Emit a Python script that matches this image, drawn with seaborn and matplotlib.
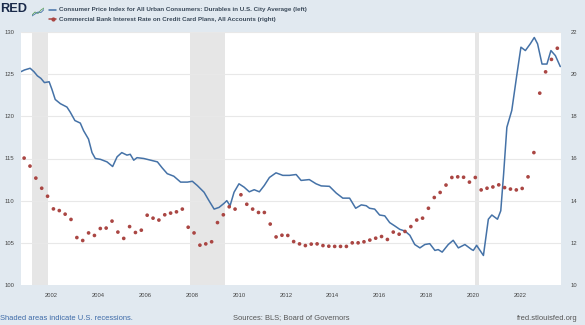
import matplotlib
matplotlib.use("Agg")
import matplotlib.pyplot as plt
import seaborn as sns
import pandas as pd
import numpy as np

# ---- data ----
cpi_year = [2000.70, 2000.85, 2001.09, 2001.25, 2001.40, 2001.55, 2001.70, 2001.90, 2002.02, 2002.16,
            2002.38, 2002.66, 2002.80, 2003.00, 2003.23, 2003.37, 2003.58, 2003.73, 2003.87, 2004.09,
            2004.37, 2004.61, 2004.80, 2005.00, 2005.22, 2005.36, 2005.51, 2005.65, 2005.94, 2006.23,
            2006.52, 2006.72, 2006.94, 2007.22, 2007.51, 2007.80, 2008.01, 2008.22, 2008.51, 2008.72,
            2008.94, 2009.15, 2009.37, 2009.48, 2009.62, 2009.79, 2010.00, 2010.22, 2010.44, 2010.65,
            2010.87, 2011.08, 2011.30, 2011.58, 2011.87, 2012.15, 2012.44, 2012.65, 2013.00, 2013.29,
            2013.51, 2013.86, 2014.15, 2014.43, 2014.72, 2014.98, 2015.22, 2015.43, 2015.57, 2015.79,
            2016.00, 2016.22, 2016.43, 2016.65, 2016.86, 2017.08, 2017.29, 2017.50, 2017.72, 2017.93,
            2018.14, 2018.36, 2018.50, 2018.67, 2018.93, 2019.14, 2019.36, 2019.64, 2019.93, 2020.00,
            2020.14, 2020.43, 2020.64, 2020.79, 2021.03, 2021.17, 2021.29, 2021.43, 2021.64, 2021.86,
            2022.03, 2022.22, 2022.43, 2022.60, 2022.74, 2022.93, 2023.14, 2023.31, 2023.50, 2023.71]
cpi_value = [125.3, 125.5, 125.7, 125.3, 124.8, 124.5, 124.0, 124.1, 123.2, 122.0,
             121.5, 121.1, 120.5, 119.5, 119.2, 118.3, 117.3, 115.7, 115.0, 114.9,
             114.6, 114.05, 115.2, 115.7, 115.4, 115.5, 114.8, 115.1, 115.0, 114.8,
             114.6, 113.9, 113.2, 112.9, 112.2, 112.2, 112.3, 111.8, 111.0, 110.0,
             109.0, 109.2, 109.7, 110.0, 109.4, 111.0, 112.0, 111.6, 111.05, 111.3,
             111.05, 111.8, 112.75, 113.3, 113.0, 113.0, 113.1, 112.4, 112.5, 112.0,
             111.75, 111.7, 110.9, 110.3, 110.3, 109.1, 109.5, 109.4, 109.1, 109.0,
             108.3, 108.2, 107.4, 107.0, 106.6, 106.4, 105.9, 104.8, 104.4, 104.8,
             104.9, 104.1, 104.2, 103.9, 104.8, 105.3, 104.4, 104.8, 104.2, 104.1,
             104.7, 103.5, 107.8, 108.3, 107.8, 108.8, 113.1, 118.7, 120.7, 125.0,
             128.2, 127.8, 128.6, 129.35, 128.6, 126.2, 126.2, 127.8, 127.2, 125.9]

rate_start = "2000-11-01"
rate_value = [16.02, 15.64, 15.07, 14.59, 14.21, 13.61, 13.53, 13.36, 13.11, 12.25,
              12.11, 12.47, 12.35, 12.68, 12.70, 13.03, 12.51, 12.21, 12.77, 12.49,
              12.60, 13.31, 13.17, 13.08, 13.33, 13.41, 13.47, 13.60, 12.74, 12.47,
              11.89, 11.95, 12.05, 12.96, 13.33, 13.71, 13.60, 14.28, 13.83, 13.60,
              13.44, 13.44, 12.89, 12.28, 12.36, 12.35, 12.06, 11.95, 11.87, 11.94,
              11.95, 11.87, 11.84, 11.83, 11.83, 11.83, 12.00, 12.00, 12.05, 12.13,
              12.22, 12.30, 12.16, 12.51, 12.41, 12.54, 12.77, 13.08, 13.17, 13.64,
              14.15, 14.39, 14.74, 15.10, 15.13, 15.11, 14.88, 15.10, 14.51, 14.59,
              14.65, 14.75, 14.62, 14.55, 14.51, 14.58, 15.13, 16.28, 19.10, 20.11,
              20.70, 21.23]

recessions = [(2001.167, 2001.833), (2007.917, 2009.417), (2020.083, 2020.25)]
left_ticks = [100, 105, 110, 115, 120, 125, 130]
right_ticks = [10, 12, 14, 16, 18, 20, 22]
x_ticks = [2002, 2004, 2006, 2008, 2010, 2012, 2014, 2016, 2018, 2020, 2022]

legend_cpi = "Consumer Price Index for All Urban Consumers: Durables in U.S. City Average (left)"
legend_rate = "Commercial Bank Interest Rate on Credit Card Plans, All Accounts (right)"

# ---- frames ----
cpi_df = pd.DataFrame({"year": cpi_year, "value": cpi_value})
rdates = pd.date_range(rate_start, periods=len(rate_value), freq="3MS")
rate_df = pd.DataFrame({"year": rdates.year + (rdates.month - 1) / 12.0, "value": rate_value})

BG = "#e1e9f0"
BLUE = "#4572a7"
RED = "#aa4643"
TXT = "#444444"

sns.set_theme(style="white")
plt.rcParams["font.family"] = ["Liberation Sans", "DejaVu Sans"]

fig = plt.figure(figsize=(5.85, 3.25), dpi=100, facecolor=BG)
ax = fig.add_axes([21 / 585, 1 - 285 / 325, 540 / 585, 253 / 325])
ax.set_facecolor("white")

for a, b in recessions:
    ax.axvspan(a, b, color="#e6e6e6", lw=0, zorder=0)

for t in left_ticks[1:]:
    ax.axhline(t, color="#e8e8e8", lw=0.8, zorder=0.5)

sns.lineplot(data=cpi_df, x="year", y="value", ax=ax, color=BLUE, lw=1.1, zorder=3)
ax.set_xlim(2000.70, 2023.74)
ax.set_ylim(100, 130)
ax.set_yticks(left_ticks)
ax.set_xticks(x_ticks)
ax.set_xticklabels([str(t) for t in x_ticks])
ax.set_xlabel("")
ax.set_ylabel("")
ax.tick_params(axis="both", labelsize=4.2, colors=TXT, length=0, pad=6)
ax.tick_params(axis="y", pad=5)

ax2 = ax.twinx()
sns.scatterplot(data=rate_df, x="year", y="value", ax=ax2, color=RED, s=7, marker="o",
                edgecolor="none", zorder=4)
ax2.set_ylim(10, 22)
ax2.set_yticks(right_ticks)
ax2.set_ylabel("")
ax2.set_xlabel("")
ax2.tick_params(axis="y", labelsize=4.2, colors=TXT, length=0, pad=7)
ax2.set_xlim(2000.70, 2023.74)

for a_ in (ax, ax2):
    for s in a_.spines.values():
        s.set_visible(False)

# ---- header ----
fig.text(0.001, 1 - 9 / 325, "RED", fontsize=9.2, fontweight="bold", color="#1a2a4a",
         va="center", ha="left")
icon = fig.add_axes([32 / 585, 1 - 17 / 325, 12 / 585, 10 / 325])
icon.set_facecolor("#dde6f0")
icon.plot([0, 1, 2, 3, 4], [0.2, 0.5, 0.35, 0.7, 0.9], color="#5aa05a", lw=0.6)
icon.plot([0, 1, 2, 3, 4], [0.1, 0.3, 0.5, 0.45, 0.75], color="#4572a7", lw=0.6)
icon.set_xlim(0, 4)
icon.set_ylim(0, 1)
icon.axis("off")

fig.lines.append(plt.Line2D([49 / 585, 56 / 585], [1 - 9.5 / 325] * 2, transform=fig.transFigure,
                            color=BLUE, lw=1.1))
fig.lines.append(plt.Line2D([49 / 585, 56 / 585], [1 - 19 / 325] * 2, transform=fig.transFigure,
                            color=RED, lw=1.1))
fig.lines.append(plt.Line2D([52.5 / 585], [1 - 19 / 325], transform=fig.transFigure,
                            color=RED, marker="o", ms=2, lw=0))
fig.text(59 / 585, 1 - 9.5 / 325, legend_cpi, fontsize=4.5, fontweight="bold",
         color="#3b4a5a", va="center", ha="left")
fig.text(59 / 585, 1 - 19 / 325, legend_rate, fontsize=4.5, fontweight="bold",
         color="#3b4a5a", va="center", ha="left")

# ---- footer ----
fig.text(0.0, 1 - 318 / 325, "Shaded areas indicate U.S. recessions.", fontsize=5.4,
         color="#3d6aa8", va="center", ha="left")
fig.text(291 / 585, 1 - 318 / 325, "Sources: BLS; Board of Governors", fontsize=5.4,
         color="#555555", va="center", ha="center")
fig.text(578 / 585, 1 - 318 / 325, "fred.stlouisfed.org", fontsize=5.4,
         color="#555555", va="center", ha="right")

fig.savefig("out.png", dpi=100, facecolor=BG)
